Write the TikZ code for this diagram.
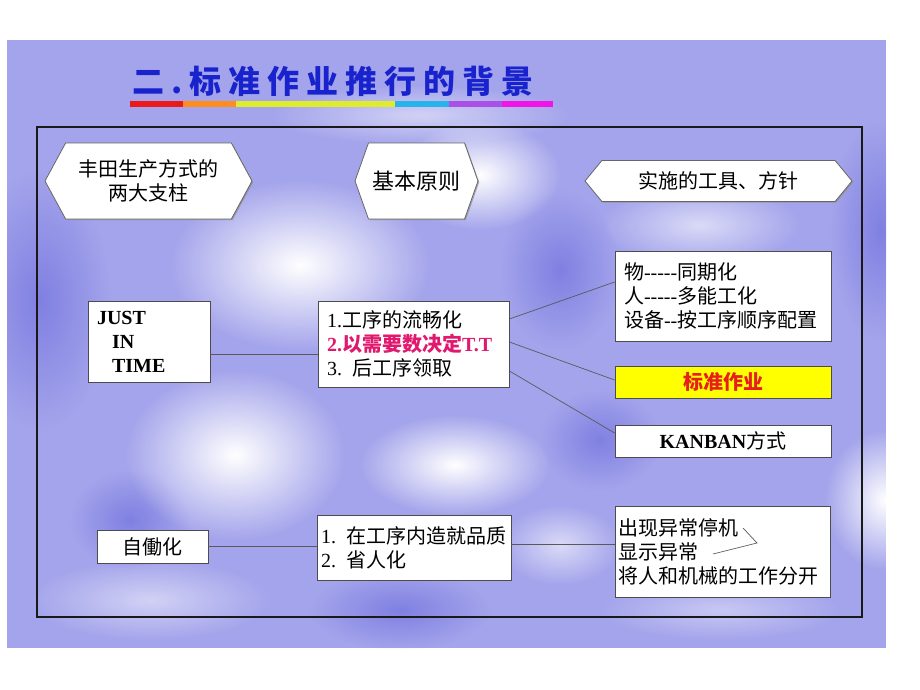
\documentclass[tikz,border=0pt]{standalone}
\usepackage{fontspec}
\setmainfont{Liberation Serif}
\newfontfamily\cn{Noto Sans CJK SC}
\newfontfamily\cntitle[LetterSpace=22]{Noto Sans CJK SC}
\usetikzlibrary{positioning, shapes.symbols, shadows, fadings}
\definecolor{slideblue}{RGB}{164,164,236}
\definecolor{deepblue}{RGB}{128,128,226}
\definecolor{titleblue}{RGB}{25,35,205}
\definecolor{ttred}{RGB}{225,25,110}
\definecolor{stdred}{RGB}{230,30,30}
\definecolor{stdyellow}{RGB}{255,255,0}
\definecolor{barred}{RGB}{235,25,25}
\definecolor{barorange}{RGB}{255,140,30}
\definecolor{baryellow}{RGB}{222,236,45}
\definecolor{barcyan}{RGB}{40,180,235}
\definecolor{barpurple}{RGB}{170,80,230}
\definecolor{barmagenta}{RGB}{240,20,230}
\tikzfading[name=soft, inner color=transparent!0, outer color=transparent!100]

\begin{document}
\begin{tikzpicture}[x=1pt, y=-1pt, node distance=100pt,
    font=\cn\fontsize{20}{24}\selectfont,
    box/.style={draw=black!70, fill=white, line width=0.8pt, inner xsep=9pt, inner ysep=0pt, align=left,
      drop shadow={shadow xshift=1.2pt, shadow yshift=-1.2pt, fill=black!45, opacity=0.7}},
    hexbox/.style={shape=signal, signal to=west and east, draw=black!60, fill=white, line width=0.8pt, align=center,
      drop shadow={shadow xshift=1.2pt, shadow yshift=-1.2pt, fill=black!45, opacity=0.7}},
    link/.style={draw=black!65, line width=0.7pt}]
    \useasboundingbox (0,0) rectangle (920,690);

    % Slide background
    \fill[slideblue] (7,40) rectangle (886,648);
    \begin{scope}
      \clip (7,40) rectangle (886,648);
      \fill[deepblue, path fading=soft] (40,300) ellipse (70 and 130);
      \fill[deepblue, path fading=soft] (560,270) ellipse (60 and 80);
      \fill[deepblue, path fading=soft] (880,230) ellipse (50 and 110);
      \fill[deepblue, path fading=soft] (600,440) ellipse (60 and 50);
      \fill[deepblue, path fading=soft] (130,520) ellipse (60 and 50);
      \fill[deepblue, path fading=soft] (400,610) ellipse (90 and 40);
      \fill[white, path fading=soft] (300,265) ellipse (130 and 85);
      \fill[white, path fading=soft] (235,455) ellipse (110 and 85);
      \fill[white, path fading=soft] (455,465) ellipse (95 and 50);
      \fill[white, path fading=soft] (480,175) ellipse (80 and 55);
      \fill[white, path fading=soft, opacity=0.6] (700,225) ellipse (100 and 40);
      \fill[white, path fading=soft] (885,500) ellipse (60 and 70);
      \fill[white, path fading=soft, opacity=0.6] (560,545) ellipse (60 and 40);
      \fill[white, path fading=soft, opacity=0.5] (420,115) ellipse (150 and 30);
      \fill[white, path fading=soft, opacity=0.5] (150,600) ellipse (120 and 40);
      \fill[white, path fading=soft, opacity=0.4] (720,610) ellipse (120 and 30);
    \end{scope}

    % Title
    \node (title) [font=\cntitle\bfseries\fontsize{32}{36}\selectfont, text=titleblue] at (333,81) {二.标准作业推行的背景};
    \foreach \c/\a/\b in {barred/130/183, barorange/183/236, baryellow/236/395,
                          barcyan/395/449, barpurple/449/502, barmagenta/502/553}
      \fill[\c] (\a,101) rectangle (\b,107);

    % Frame
    \draw[line width=2pt, black!90] (37,127) rectangle (862,617);

    % Headings
    \node (pillar) [hexbox, minimum width=207pt, minimum height=76pt, signal pointer angle=123] at (148.5,181) {丰田生产方式的\\两大支柱};
    \node (rule) [hexbox, right of=pillar, xshift=168pt, minimum width=123pt, minimum height=76pt, signal pointer angle=141,
      font=\cn\fontsize{22}{26}\selectfont] {基本原则};
    \node (tool) [hexbox, right of=rule, xshift=202pt, minimum width=267pt, minimum height=41pt, signal pointer angle=101] {实施的工具、方针};

    % Just in time
    \node (jit) [box, minimum width=122pt, minimum height=81pt, text width=104pt] at (149,341.5)
      {\textrm{\bfseries JUST}\\\hspace*{15pt}\textrm{\bfseries IN}\\\hspace*{15pt}\textrm{\bfseries TIME}};
    \node (flow) [box, right of=jit, xshift=164.5pt, yshift=-2.5pt, minimum width=191pt, minimum height=86pt, text width=173pt]
      {\textrm{1.}工序的流畅化\\{\color{ttred}\bfseries\textrm{2.}以需要数决定\textrm{T.T}}\\\textrm{3. }后工序领取};
    \node (sync) [box, right of=flow, xshift=209.5pt, yshift=48pt, minimum width=216pt, minimum height=90pt, text width=198pt]
      {物\textrm{-{}-{}-{}-{}-}同期化\\人\textrm{-{}-{}-{}-{}-}多能工化\\设备\textrm{-{}-}按工序顺序配置};
    \node (std) [box, fill=stdyellow, below of=sync, yshift=14pt, minimum width=216pt, minimum height=32pt, align=center]
      {\color{stdred}\bfseries 标准作业};
    \node (kanban) [box, below of=std, yshift=41pt, minimum width=216pt, minimum height=32pt, align=center]
      {\textrm{\bfseries KANBAN}方式};

    % Jidoka
    \node (jido) [box, below of=jit, xshift=3.5pt, yshift=-105pt, minimum width=111pt, minimum height=33pt, align=center] {自働化};
    \node (quality) [box, right of=jido, xshift=161.5pt, yshift=-1pt, inner xsep=4pt, minimum width=194pt, minimum height=65pt, text width=186pt]
      {\textrm{1. }在工序内造就品质\\\textrm{2. }省人化};
    \node (stop) [box, right of=quality, xshift=208.5pt, yshift=-4pt, inner xsep=3pt, minimum width=215pt, minimum height=91pt, text width=209pt]
      {出现异常停机\\显示异常\\将人和机械的工作分开};
    \draw[link] (743,528) -- (757,543) -- (713,554);

    % Lines
    \draw[link] ([yshift=-12.5pt]jit.east) -- ([yshift=-10pt]flow.west);
    \draw[link] ([yshift=25pt]flow.east) -- ([yshift=14pt]sync.west);
    \draw[link] ([yshift=2pt]flow.east) -- ([yshift=2pt]std.west);
    \draw[link] ([yshift=-27pt]flow.east) -- ([yshift=8pt]kanban.west);
    \draw[link] (jido.east) -- (jido.east -| quality.west);
    \draw[link] ([yshift=3.5pt]quality.east) -- ([yshift=3.5pt]quality.east -| stop.west);
  \end{tikzpicture}
\end{document}
